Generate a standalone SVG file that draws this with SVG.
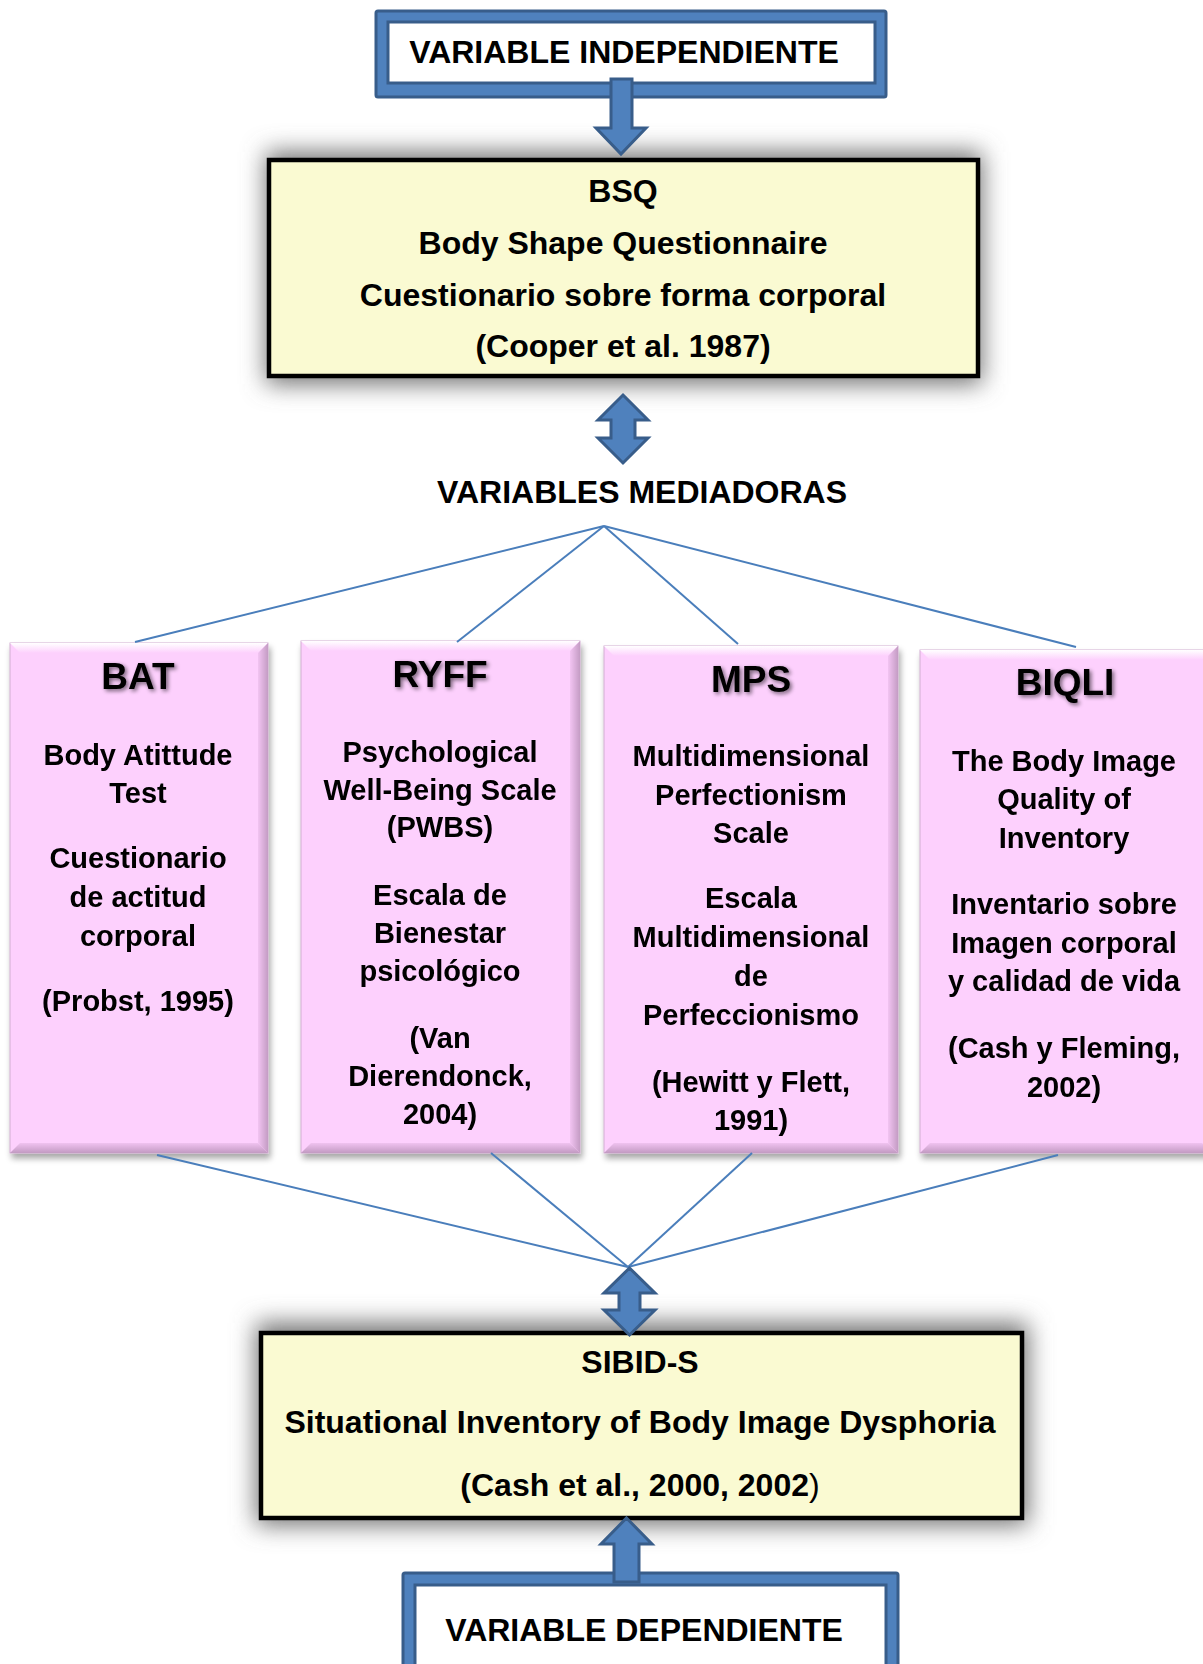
<svg xmlns="http://www.w3.org/2000/svg" width="1203" height="1664" viewBox="0 0 1203 1664">
<defs>
<style>
.t{font-family:"Liberation Sans",Arial,sans-serif;font-weight:bold;font-size:32px;text-anchor:middle;fill:#000}
.pk{font-size:29px}
.ttl{font-size:37px;filter:url(#tsh)}
.frame{fill:#4f81bd;stroke:#385d8a;stroke-width:3}
.inner{fill:#fff;stroke:#385d8a;stroke-width:3}
.arr{fill:#4f81bd;stroke:#385d8a;stroke-width:3;stroke-linejoin:miter}
.ybox{fill:#fafad2;stroke:#000;stroke-width:4.5}
.ysh{fill:#707070;filter:url(#blur)}
.pink{fill:#fdd0fd;stroke:#d2aed2;stroke-width:1}
.con{stroke:#4a7ebb;stroke-width:2;fill:none}
</style>
<filter id="blur" x="-20%" y="-40%" width="140%" height="180%"><feGaussianBlur stdDeviation="12"/></filter>
<filter id="psh" x="-10%" y="-10%" width="125%" height="120%">
<feGaussianBlur in="SourceAlpha" stdDeviation="3"/><feOffset dx="2" dy="5"/>
<feComponentTransfer><feFuncA type="linear" slope="0.35"/></feComponentTransfer>
<feMerge><feMergeNode/><feMergeNode in="SourceGraphic"/></feMerge></filter>
<filter id="tsh" x="-20%" y="-30%" width="140%" height="160%">
<feGaussianBlur in="SourceAlpha" stdDeviation="2"/><feOffset dx="2" dy="2"/>
<feComponentTransfer><feFuncA type="linear" slope="0.55"/></feComponentTransfer>
<feMerge><feMergeNode/><feMergeNode in="SourceGraphic"/></feMerge></filter>
<linearGradient id="topb" x1="0" y1="0" x2="0" y2="1"><stop offset="0" stop-color="#ffffff"/><stop offset="1" stop-color="#fdd0fd"/></linearGradient>
<linearGradient id="rb" x1="0" y1="0" x2="1" y2="0"><stop offset="0" stop-color="#f2c4f2"/><stop offset="1" stop-color="#c49cc4"/></linearGradient>
<linearGradient id="bb" x1="0" y1="0" x2="0" y2="1"><stop offset="0" stop-color="#f0c2f0"/><stop offset="1" stop-color="#c29ac2"/></linearGradient>
</defs>
<rect width="1203" height="1664" fill="#fff"/>

<g id="var-independiente">
<rect class="frame" x="376" y="11" width="510" height="86" rx="2"/>
<rect class="inner" x="388" y="22" width="487" height="61"/>
<text class="t" x="624" y="63">VARIABLE INDEPENDIENTE</text>
</g>

<g id="bsq">
<rect class="ysh" x="266" y="152" width="716" height="232"/>
<rect class="ybox" x="269" y="160" width="709" height="216"/>
<text class="t" x="623" y="202">BSQ</text>
<text class="t" x="623" y="254">Body Shape Questionnaire</text>
<text class="t" x="623" y="306">Cuestionario sobre forma corporal</text>
<text class="t" x="623" y="357">(Cooper et al. 1987)</text>
</g>

<g id="sibid">
<rect class="ysh" x="256" y="1323" width="772" height="202"/>
<rect class="ybox" x="261" y="1333" width="761" height="185"/>
<text class="t" x="640" y="1373">SIBID-S</text>
<text class="t" x="640" y="1433">Situational Inventory of Body Image Dysphoria</text>
<text class="t" x="640" y="1496">(Cash et al., 2000, 2002<tspan font-weight="normal">)</tspan></text>
</g>

<g id="var-dependiente">
<rect class="frame" x="403" y="1573" width="495" height="110" rx="2"/>
<rect class="inner" x="415" y="1585" width="471" height="90"/>
<text class="t" x="644" y="1641">VARIABLE DEPENDIENTE</text>
</g>

<g id="mediadoras">
<text class="t" x="642" y="503">VARIABLES MEDIADORAS</text>
</g>

<g id="bat" filter="url(#psh)">
<rect class="pink" x="10" y="643" width="258" height="510"/>
<polygon points="10,643 268,643 258,653 20,653" fill="url(#topb)"/>
<polygon points="268,643 268,1153 258,1143 258,653" fill="url(#rb)"/>
<polygon points="10,1153 268,1153 258,1143 20,1143" fill="url(#bb)"/>
<text class="t ttl" x="138" y="689">BAT</text>
<text class="t pk" x="138" y="765">Body Atittude</text>
<text class="t pk" x="138" y="803">Test</text>
<text class="t pk" x="138" y="868">Cuestionario</text>
<text class="t pk" x="138" y="907">de actitud</text>
<text class="t pk" x="138" y="946">corporal</text>
<text class="t pk" x="138" y="1011">(Probst, 1995)</text>
</g>

<g id="ryff" filter="url(#psh)">
<rect class="pink" x="301" y="641" width="279" height="512"/>
<polygon points="301,641 580,641 570,651 311,651" fill="url(#topb)"/>
<polygon points="580,641 580,1153 570,1143 570,651" fill="url(#rb)"/>
<polygon points="301,1153 580,1153 570,1143 311,1143" fill="url(#bb)"/>
<text class="t ttl" x="440" y="687">RYFF</text>
<text class="t pk" x="440" y="762">Psychological</text>
<text class="t pk" x="440" y="800">Well-Being Scale</text>
<text class="t pk" x="440" y="837">(PWBS)</text>
<text class="t pk" x="440" y="905">Escala de</text>
<text class="t pk" x="440" y="943">Bienestar</text>
<text class="t pk" x="440" y="981">psicológico</text>
<text class="t pk" x="440" y="1048">(Van</text>
<text class="t pk" x="440" y="1086">Dierendonck,</text>
<text class="t pk" x="440" y="1124">2004)</text>
</g>

<g id="mps" filter="url(#psh)">
<rect class="pink" x="604" y="646" width="294" height="507"/>
<polygon points="604,646 898,646 888,656 614,656" fill="url(#topb)"/>
<polygon points="898,646 898,1153 888,1143 888,656" fill="url(#rb)"/>
<polygon points="604,1153 898,1153 888,1143 614,1143" fill="url(#bb)"/>
<text class="t ttl" x="751" y="692">MPS</text>
<text class="t pk" x="751" y="766">Multidimensional</text>
<text class="t pk" x="751" y="805">Perfectionism</text>
<text class="t pk" x="751" y="843">Scale</text>
<text class="t pk" x="751" y="908">Escala</text>
<text class="t pk" x="751" y="947">Multidimensional</text>
<text class="t pk" x="751" y="986">de</text>
<text class="t pk" x="751" y="1025">Perfeccionismo</text>
<text class="t pk" x="751" y="1092">(Hewitt y Flett,</text>
<text class="t pk" x="751" y="1130">1991)</text>
</g>

<g id="biqli" filter="url(#psh)">
<rect class="pink" x="920" y="650" width="292" height="503"/>
<polygon points="920,650 1212,650 1202,660 930,660" fill="url(#topb)"/>
<polygon points="920,1153 1212,1153 1202,1143 930,1143" fill="url(#bb)"/>
<text class="t ttl" x="1065" y="695">BIQLI</text>
<text class="t pk" x="1064" y="771">The Body Image</text>
<text class="t pk" x="1064" y="809">Quality of</text>
<text class="t pk" x="1064" y="848">Inventory</text>
<text class="t pk" x="1064" y="914">Inventario sobre</text>
<text class="t pk" x="1064" y="953">Imagen corporal</text>
<text class="t pk" x="1064" y="991">y calidad de vida</text>
<text class="t pk" x="1064" y="1058">(Cash y Fleming,</text>
<text class="t pk" x="1064" y="1097">2002)</text>
</g>

<g id="connectors">
<line class="con" x1="604" y1="526" x2="135" y2="642"/>
<line class="con" x1="604" y1="526" x2="457" y2="642"/>
<line class="con" x1="604" y1="526" x2="738" y2="644"/>
<line class="con" x1="604" y1="526" x2="1076" y2="647"/>
<line class="con" x1="157" y1="1155" x2="628" y2="1267"/>
<line class="con" x1="491" y1="1153" x2="628" y2="1267"/>
<line class="con" x1="752" y1="1153" x2="628" y2="1267"/>
<line class="con" x1="1058" y1="1155" x2="628" y2="1267"/>
<path class="arr" d="M611,79 L632,79 L632,128 L646,128 L621,154 L596,128 L611,128 Z"/>
<path class="arr" d="M623,395 L648,420 L635,420 L635,438 L648,438 L623,463 L598,438 L611,438 L611,420 L598,420 Z"/>
<path class="arr" d="M629.5,1268 L655,1293 L640,1293 L640,1310 L655,1310 L629.5,1335 L604,1310 L619,1310 L619,1293 L604,1293 Z"/>
<path class="arr" d="M626.5,1518 L652,1544 L639,1544 L639,1582 L614,1582 L614,1544 L601,1544 Z"/>
</g>
</svg>
